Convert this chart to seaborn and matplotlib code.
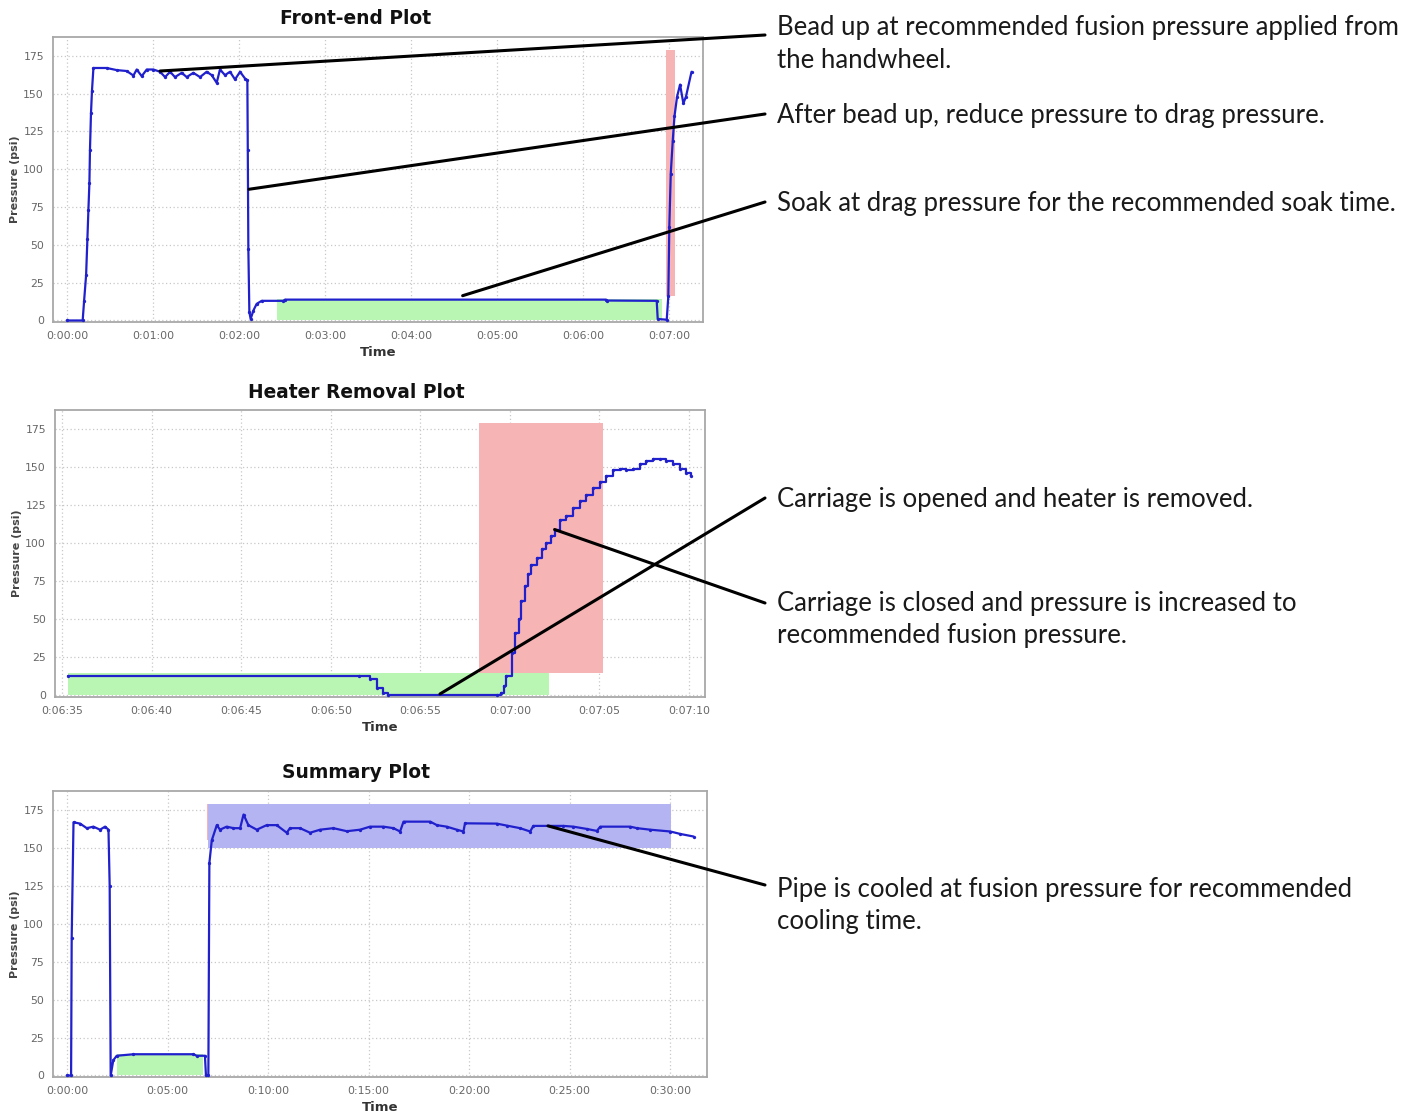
import matplotlib
matplotlib.use("Agg")
import matplotlib.pyplot as plt
import seaborn as sns
from matplotlib.patches import ConnectionPatch
from matplotlib.ticker import FuncFormatter

# Front-end plot: time (s) and pressure (psi)
FRONT_T = [0, 10.9, 11.9, 13.3, 14.2, 14.9, 15.6, 16.0, 16.7, 17.4,
           18.4, 27.7, 34.7, 41.6, 46.3, 48.6, 52.1, 55.6, 60.2, 64.9,
           68.4, 71.9, 75.3, 80.0, 83.5, 88.1, 92.8, 97.4, 100.9, 104.4,
           106.7, 110.2, 113.7, 117.2, 120.7, 124.2, 125.8, 126.1, 126.5, 127.2,
           128.1, 130.0, 132.3, 135.8, 150.9, 152.1, 376.0, 376.5, 411.4, 412.1,
           418.4, 419.5, 420.2, 421.2, 422.6, 423.8, 425.6, 427.7, 430.0, 431.8,
           435.7]
FRONT_P = [0, 0, 13, 30, 54, 73, 91, 113, 137, 152,
           167, 167, 165.6, 165, 162, 166, 161.6, 166, 166, 164.5,
           161, 164.5, 161, 163.8, 161, 163.8, 161, 164.5, 162.3, 157.2,
           166, 162.3, 164.5, 159.4, 164.5, 160, 159, 113, 47, 5.5,
           1, 6.6, 11, 13, 13, 13.8, 13.8, 13.2, 13, 1,
           0.5, 16, 62, 97, 119, 135, 148, 156, 143.6, 148,
           164.5]

# Heater removal plot: time (s) and pressure (psi)
HEATER_T = [395.3, 411.6, 412.2, 412.6, 412.9, 413.2, 419.3, 419.5, 419.7, 419.8,
            420.1, 420.3, 420.5, 420.65, 420.84, 421.02, 421.21, 421.49, 421.77, 422.04,
            422.32, 422.51, 422.79, 423.16, 423.53, 423.90, 424.28, 424.65, 425.02, 425.39,
            425.76, 426.13, 426.51, 426.88, 427.25, 427.62, 427.99, 428.36, 428.74, 429.11,
            429.48, 429.85, 430.13]
HEATER_P = [13, 13, 10.5, 5, 1.7, 0, 0, 1.7, 6, 13,
            28, 41, 50, 62, 72, 80, 86, 90, 96, 100,
            105, 109, 115, 118, 123, 128, 132, 136, 140, 144,
            148, 149, 148, 149, 152, 154, 155, 155, 154, 152,
            149, 146, 144]

# Summary plot: time (min) and pressure (psi)
SUM_T = [0, 0.2, 0.23, 0.32, 0.65, 0.98, 1.31, 1.64, 1.89, 2.06,
         2.12, 2.17, 2.30, 2.47, 3.30, 6.29, 6.45, 6.86, 6.91, 7.03,
         7.08, 7.20, 7.45, 7.61, 7.94, 8.28, 8.61, 8.78, 9.02, 9.44,
         9.93, 10.43, 10.93, 11.09, 11.59, 12.09, 12.59, 13.25, 13.92, 14.58,
         15.07, 15.74, 16.24, 16.57, 16.74, 18.07, 18.40, 18.89, 19.39, 19.72,
         19.80, 21.38, 21.88, 22.54, 23.04, 23.20, 24.69, 25.19, 25.86, 26.36,
         26.53, 28.02, 28.36, 29.02, 30.02, 30.51, 31.17]
SUM_P = [0, 0, 90.8, 166.9, 166, 163, 164, 162, 164, 162,
         125, 0, 10, 13, 14, 14, 13, 13, 0, 0,
         140, 155, 165, 162, 164, 163, 163, 172, 165, 162,
         165, 165, 160, 163, 163, 160, 162, 163, 161, 162,
         164, 164, 163, 160.8, 167.3, 167.3, 165, 164, 162, 160.8,
         166.2, 166, 164.7, 163, 160.8, 164.5, 164.5, 164, 162.5, 161.2,
         164, 164, 163, 162, 160.8, 159.2, 157.5]

# phase windows: (start, end, low, high)
FRONT_SOAK = (146.5, 415.0, 0, 14)
FRONT_OPEN = (418.0, 424.0, 16, 179)
HEATER_SOAK = (395.3, 422.2, 0, 15)
HEATER_OPEN = (418.3, 425.2, 15, 179)
SUM_SOAK = (2.47, 6.78, 0, 14)
SUM_OPEN = (6.95, 7.07, 155, 179)
SUM_COOL = (7.03, 30.07, 150, 179)

Y_TICKS = [0, 25, 50, 75, 100, 125, 150, 175]
FRONT_XTICKS = [0, 60, 120, 180, 240, 300, 360, 420]
HEATER_XTICKS = [395, 400, 405, 410, 415, 420, 425, 430]
SUM_XTICKS = [0, 5, 10, 15, 20, 25, 30]

NOTES = [
    (0, 64.9, 165, 35, ["Bead up at recommended fusion pressure applied from", "the handwheel."], 28),
    (0, 127, 86.8, 114, ["After bead up, reduce pressure to drag pressure."], 115),
    (0, 276, 16.4, 202, ["Soak at drag pressure for the recommended soak time."], 203),
    (1, 416.1, 1.0, 498, ["Carriage is opened and heater is removed."], 500),
    (1, 422.5, 109, 603, ["Carriage is closed and pressure is increased to", "recommended fusion pressure."], 604),
    (2, 23.93, 164.5, 885, ["Pipe is cooled at fusion pressure for recommended", "cooling time."], 890),
]

LINE = "#2020cc"
GREEN = "#b9f5b3"
RED = "#f6b4b4"
BLUE = "#b4b4f3"

W, H = 1419, 1112


def hms(sec):
    s = int(round(sec))
    return f"{s // 3600}:{s // 60 % 60:02d}:{s % 60:02d}"


def box(ax, span, color):
    x0, x1, lo, hi = span
    ax.fill_between([x0, x1], [lo, lo], [hi, hi], color=color, lw=0, zorder=1)


def style(ax, xticks, xlim, fmt):
    ax.set_xlim(*xlim)
    ax.set_ylim(-1, 187.5)
    ax.set_xticks(xticks)
    ax.set_yticks(Y_TICKS)
    ax.xaxis.set_major_formatter(FuncFormatter(fmt))
    ax.grid(True, color="#c8c8c8", ls=(0, (1, 2)), lw=0.9, zorder=0)
    ax.set_axisbelow(True)
    for sp in ax.spines.values():
        sp.set_visible(True)
        sp.set_color("#a8a8a8")
        sp.set_linewidth(1.3)
    ax.tick_params(colors="#999999", labelcolor="#666666", labelsize=7.8,
                   length=3, width=0.8, direction="out")
    ax.set_xlabel("Time", fontsize=9.5, fontweight="bold", color="#333333")
    ax.set_ylabel("Pressure (psi)", fontsize=8, fontweight="bold", color="#444444")
    ax.xaxis.set_label_coords(0.5, -0.085)
    ax.yaxis.set_label_coords(-0.051, 0.5)


def rect(left, top, right, bottom):
    return [left / W, 1 - bottom / H, (right - left) / W, (bottom - top) / H]


sns.set_style("white")
plt.rcParams["font.family"] = ["DejaVu Sans"]

fig = plt.figure(figsize=(W / 100, H / 100), dpi=100)
ax1 = fig.add_axes(rect(53, 37, 703, 322))
ax2 = fig.add_axes(rect(55, 410, 705, 697))
ax3 = fig.add_axes(rect(53, 791, 707, 1077))

line_kw = dict(color=LINE, lw=1.6, marker="o", markersize=2.4,
               markeredgewidth=0, estimator=None, zorder=3)

box(ax1, FRONT_SOAK, GREEN)
box(ax1, FRONT_OPEN, RED)
sns.lineplot(x=FRONT_T, y=FRONT_P, ax=ax1, **line_kw)
style(ax1, FRONT_XTICKS, (-9.8, 443.7), lambda v, p: hms(v))

box(ax2, HEATER_SOAK, GREEN)
box(ax2, HEATER_OPEN, RED)
sns.lineplot(x=HEATER_T, y=HEATER_P, ax=ax2, drawstyle="steps-post", **line_kw)
style(ax2, HEATER_XTICKS, (394.6, 430.9), lambda v, p: hms(v))

box(ax3, SUM_SOAK, GREEN)
box(ax3, SUM_OPEN, RED)
box(ax3, SUM_COOL, BLUE)
sns.lineplot(x=SUM_T, y=SUM_P, ax=ax3, **line_kw)
style(ax3, SUM_XTICKS, (-0.7, 31.84), lambda v, p: hms(v * 60))

for title, y in [("Front-end Plot", 18), ("Heater Removal Plot", 392), ("Summary Plot", 772)]:
    fig.text(356 / W, 1 - y / H, title, ha="center", va="center",
             fontsize=13.4, fontweight="bold", color="#111111")

axes = [ax1, ax2, ax3]
for idx, xd, yd, yend, lines, ytxt in NOTES:
    con = ConnectionPatch(xyA=(xd, yd), coordsA=axes[idx].transData,
                          xyB=(765 / W, 1 - yend / H), coordsB="figure fraction",
                          color="black", lw=2.2, zorder=5)
    fig.add_artist(con)
    for k, txt in enumerate(lines):
        fig.text(777 / W, 1 - (ytxt + 32 * k) / H, txt, ha="left", va="center",
                 fontsize=18.5, family=["Lato", "DejaVu Sans"], color="#1a1a1a")

fig.savefig("out.png", dpi=100)
